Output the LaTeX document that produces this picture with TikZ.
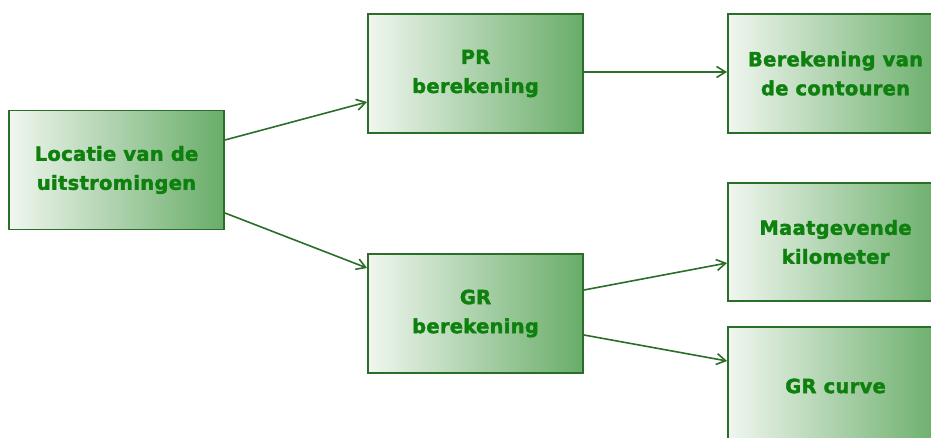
\documentclass[tikz,border=0pt]{standalone}
\usepackage{fontspec}
\setmainfont{DejaVu Sans}
\newfontfamily\boxfont[FakeBold=2,LetterSpace=1.5]{DejaVu Sans Bold}
\usetikzlibrary{arrows.meta,calc}
\definecolor{txtgreen}{HTML}{0E800E}
\definecolor{edgegreen}{HTML}{2A6E2A}
\definecolor{gradL}{HTML}{F0F6EF}
\definecolor{gradR}{HTML}{68AD68}
\tikzset{
  box/.style={rectangle, draw=edgegreen, line width=1.9pt, left color=gradL, right color=gradR,
    minimum width=215pt, minimum height=119pt, inner sep=0pt, align=center,
    text=txtgreen, font=\boxfont\fontsize{19.5}{29}\selectfont},
  conn/.style={draw=edgegreen, line width=1.6pt, -{Straight Barb[length=9pt,width=11pt,line width=1.6pt]}}
}
\begin{document}
\begin{tikzpicture}[x=1pt,y=1pt]
\useasboundingbox (0,0) rectangle (931,438);
\node[box] (loc) at (116.5,268) {Locatie van de\\uitstromingen};
\node[box] (pr) at (475.5,364.5) {PR\\berekening};
\node[box] (gr) at (475.5,124.5) {GR\\berekening};
\node[box] (cont) at (835.5,364.5) {Berekening van\\de contouren};
\node[box, minimum height=118pt] (maat) at (835.5,196) {Maatgevende\\kilometer};
\node[box, minimum height=118pt] (curve) at (835.5,52) {GR curve};
\draw[conn] ($(loc.east)+(0,30)$) -- ($(pr.west)+(0,-28.5)$);
\draw[conn] ($(loc.east)+(0,-43)$) -- ($(gr.west)+(0,45.5)$);
\draw[conn] ($(pr.east)+(0,1.5)$) -- ($(cont.west)+(0,1.5)$);
\draw[conn] ($(gr.east)+(0,23.5)$) -- ($(maat.west)+(0,-21)$);
\draw[conn] ($(gr.east)+(0,-21.5)$) -- ($(curve.west)+(0,25)$);
\end{tikzpicture}
\end{document}
